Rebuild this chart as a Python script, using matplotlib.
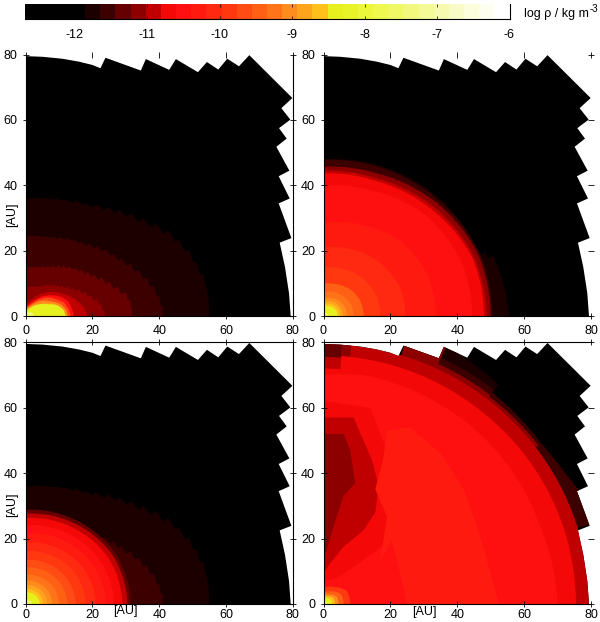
import numpy as np
import matplotlib
matplotlib.use("Agg")
import matplotlib.pyplot as plt
from matplotlib.colors import ListedColormap, BoundaryNorm
from matplotlib.cm import ScalarMappable
from matplotlib.patches import Polygon

plt.rcParams['font.family'] = ['Liberation Sans', 'DejaVu Sans']

W, H = 600, 622

# colour scale
band_colors = ['#000000', '#1c0000', '#3c0000', '#660000', '#8c0000', '#c00000',
               '#f40808', '#ff1010', '#ff1a10', '#ff2810', '#ff3810', '#ff4c14',
               '#ff6014', '#ff7418', '#ff8c1c', '#ffa41c', '#ffc01c', '#e6f01e',
               '#e8f428', '#ecf63a', '#eef84e', '#f0f866', '#f2f87e', '#f4fa96',
               '#f6faae', '#f8fbc6', '#fbfddc', '#fdfeee', '#ffffff']
cbar_low = -12.69
band_edges = [cbar_low] + list(np.linspace(-11.86, -6.0, 29))
cbar_ticks = [-12, -11, -10, -9, -8, -7, -6]
cbar_ticklabels = ['-12', '-11', '-10', '-9', '-8', '-7', '-6']

# jagged outer edge of the grid [AU]
outline_x = [0, 5, 11, 16, 20, 22.4, 23.9, 34.5, 36, 43, 45, 51.6, 54.3, 57.7, 60.4, 63.9, 67,
             79.9, 76.6, 79.3, 75.9, 78.2, 75.1, 79, 75.8, 79.1, 75.8, 79.6, 76.1, 77.7, 78.9, 79.4, 0]
outline_y = [79.5, 79.3, 78.7, 77.8, 76.8, 75.8, 79, 75.1, 78.6, 75.3, 78.6, 74.6, 77.7, 75.4, 78.7, 76.4, 79.8,
             66.7, 63.6, 60.1, 57.5, 54.3, 51.8, 44.5, 42.8, 36, 34.5, 23.9, 22.5, 15, 7, 0, 0]

axis_ticks = [0, 20, 40, 60, 80]
axis_ticklabels = ['0', '20', '40', '60', '80']

# shells: log density, polar angles [deg], outer radius [AU]
grid10 = [0, 10, 20, 30, 40, 50, 60, 70, 80, 90]
ring_outer = [55, 55, 53, 50, 45.5, 42, 39, 37.5, 36.5, 36]
ring_second = [41.5, 40, 37, 33.5, 31, 28.5, 27, 25.5, 24.8, 24.4]

p1_levels = [-11.75, -11.55, -11.34, -11.13, -10.92, -10.5, -9.67, -9.04, -8.41, -7.5]
p1_radii = [ring_outer, ring_second,
            [32, 31.5, 27.5, 24, 21.5, 19.5, 17.5, 16, 15.3, 15],
            [24, 22.5, 19.5, 16.5, 14, 12.5, 10.8, 9.6, 9.2, 9],
            [18.5, 17.5, 15.5, 13.5, 11.5, 9.5, 7.5, 5.5, 4.5, 4],
            [14.5, 14, 13.5, 12, 10, 8, 5.8, 4.3, 3.4, 3],
            [13.5, 13, 12.2, 10.5, 9, 7, 5, 3.6, 3, 2.8],
            [12.7, 12.2, 11, 9, 7.5, 5.8, 4.2, 3.2, 2.7, 2.5],
            [12, 11.5, 10, 7.5, 5.8, 4.4, 3.2, 2.4, 2, 1.8],
            [2.5, 2.5, 2.4, 2.2, 2, 1.8, 1.6, 1.4, 1.2, 1.2]]

p2_angles = [0, 20, 22, 45, 70, 90]
p2_levels = [-11.75, -11.55, -11.13, -10.92, -10.71, -10.5, -10.29, -10.08,
             -9.88, -9.46, -9.25, -9.04, -8.83, -8.62, -8.41, -7.5]
p2_radii = [[55.5, 54, 50.5, 50, 49, 48],
            [50.5, 50.5, 50.5, 49.5, 48.5, 47.8],
            [50, 50, 50, 48.5, 46.5, 45.7],
            [48.8, 48.5, 48.5, 47, 45, 44.5],
            [48, 48, 48, 46, 44.2, 43.7],
            [44.5, 44.5, 44.5, 43.5, 41, 40],
            [33.5, 33.5, 33.5, 32.5, 30, 28.5],
            [24.5, 24.5, 24.5, 23.5, 22, 21],
            [17, 17, 17, 16.5, 15.5, 15],
            [12, 12, 12, 11.5, 10.5, 10],
            [9, 9, 9, 8.5, 8, 7.5],
            [7, 7, 7, 6.7, 6, 5.6],
            [5.8, 5.8, 5.8, 5.5, 5, 4.6],
            [5, 5, 5, 4.7, 4.2, 3.9],
            [4.2, 4.2, 4.2, 3.9, 3.4, 3.2],
            [1.5, 1.5, 1.5, 1.4, 1.2, 1.1]]

p3_angles = [0, 30, 60, 90]
p3_levels = [-11.34, -10.92, -10.71, -10.5, -10.29, -10.08, -9.88, -9.67, -9.46,
             -9.25, -9.04, -8.83, -8.62, -8.41, -7.5]
p3_radii = [[31.5, 31, 29.7, 28.8],
            [30.5, 30, 28.6, 27.6],
            [29, 28.5, 27.2, 26.3],
            [26.5, 26, 25, 24],
            [24, 23.5, 22.5, 21.5],
            [21, 20.5, 19.6, 18.8],
            [18, 17.6, 16.8, 16.2],
            [15, 14.6, 14, 13.5],
            [12.5, 12.2, 11.6, 11.2],
            [10, 9.8, 9.3, 9],
            [8, 7.8, 7.4, 7.2],
            [6.5, 6.3, 6, 5.8],
            [5.2, 5, 4.8, 4.6],
            [4.2, 4, 3.8, 3.6],
            [1.8, 1.7, 1.6, 1.5]]

p4_levels_outer = [-11.75, -11.55, -11.13, -10.92, -11.34, -11.13, -10.92, -10.71, -10.5]
p4_angles_outer = [[0, 51.9, 52, 65, 73, 73.1, 90],
                   [0, 16.9, 17, 24, 29, 37, 52, 52.1, 65, 65.1, 90],
                   [0, 37, 37.1, 52, 52.1, 65, 65.1, 73, 73.1, 90],
                   [0, 90],
                   [0, 85.9, 86, 90],
                   [0, 83.9, 84, 86, 86.1, 90],
                   [0, 85.9, 86, 90],
                   [0, 20, 50, 85.9, 86, 90],
                   [0, 20, 50, 80, 90]]
p4_radii_outer = [[0, 0, 85, 87, 87, 0, 0],
                  [0, 0, 84, 84, 82.6, 81.5, 82, 83, 83, 0, 0],
                  [0, 0, 80.5, 80.5, 81, 81, 88, 88, 0, 0],
                  [79.5, 79.5],
                  [0, 0, 79.5, 79.5],
                  [0, 0, 79.5, 79.5, 0, 0],
                  [0, 0, 75.5, 75.5],
                  [75.5, 75.5, 75.5, 76, 72, 72],
                  [70, 69, 70, 71, 70]]

# density structures along the axis of the last panel [AU]
halo_level = -10.71
halo_x = [0, 14, 17, 20, 22, 22, 18, 10, 4, 0]
halo_y = [62, 60, 52, 44, 35, 26, 18, 12, 8, 7]
plume_out_level = -10.92
plume_out_x = [0, 9, 11.5, 14.5, 16.5, 15.5, 12, 6, 2, 0]
plume_out_y = [57, 57, 51, 44, 36, 28, 22.6, 17.5, 12.5, 9.4]
plume_in_level = -11.13
plume_in_x = [0, 6, 8, 9.5, 6, 3, 0]
plume_in_y = [52, 52, 47, 37, 33, 23.7, 13.5]
hump_level = -10.29
hump_x = [19, 26, 35, 42, 47, 52.5, 25, 20.5, 17, 19, 15.5, 18]
hump_y = [53, 54, 46, 35, 20, 0, 0, 19.6, 13.5, 26.7, 35, 45]

p4_levels_core = [-9.88, -9.46, -9.04, -8.62, -8.41, -7.5]
p4_angles_core = [0, 30, 60, 90]
p4_radii_core = [[8, 8, 6, 5],
                 [6, 6, 4.5, 3.5],
                 [4.5, 4.5, 3.4, 2.8],
                 [3.5, 3.5, 2.7, 2.2],
                 [2.5, 2.5, 2, 1.6],
                 [1, 1, 0.9, 0.8]]

panels = [(25.7, 292.7, 54.5, 316.3), (323.5, 591, 54.5, 316.3),
          (25.7, 292.7, 342.3, 604), (323.5, 591, 342.3, 604)]

cmap = ListedColormap(band_colors)
norm = BoundaryNorm(band_edges, cmap.N)


def add_axes(x0, x1, y0, y1):
    return fig.add_axes([x0 / W, 1 - y1 / H, (x1 - x0) / W, (y1 - y0) / H])


def shell(ax, clip, level, angles, radii, step=3.0):
    edges = np.arange(0, 90 + step, step)
    centers = 0.5 * (edges[:-1] + edges[1:])
    r = np.interp(centers, angles, radii)
    th0, th1 = np.radians(edges[:-1]), np.radians(edges[1:])
    xs = np.column_stack([r * np.cos(th0), r * np.cos(th1)]).ravel()
    ys = np.column_stack([r * np.sin(th0), r * np.sin(th1)]).ravel()
    p = ax.fill(np.r_[0, xs], np.r_[0, ys], fc=cmap(norm(level)), ec='none', lw=0)[0]
    p.set_clip_path(clip)


def blob(ax, level, xs, ys):
    ax.fill(xs, ys, fc=cmap(norm(level)), ec='none', lw=0)


fig = plt.figure(figsize=(W / 100, H / 100), dpi=100, facecolor='white')

axes = []
for i, (x0, x1, y0, y1) in enumerate(panels):
    ax = add_axes(x0, x1, y0, y1)
    ax.set_xlim(0, 80)
    ax.set_ylim(0, 80)
    ax.set_xticks(axis_ticks, axis_ticklabels)
    ax.set_yticks(axis_ticks, axis_ticklabels)
    ax.tick_params(top=True, right=True, direction='inout', length=4, width=0.6,
                   labelsize=9)
    ax.tick_params(axis='x', pad=4.5 if i < 2 else 1.5)
    ax.tick_params(axis='y', pad=4)
    for sp in ax.spines.values():
        sp.set_linewidth(0.8)
    if i < 2:
        ax.spines['top'].set_visible(False)
    if i % 2 == 1:
        ax.spines['right'].set_visible(False)
    clip = Polygon(np.column_stack([outline_x, outline_y]), closed=True, fc='black', ec='none',
                   transform=ax.transData)
    ax.add_patch(clip)
    axes.append((ax, clip))

ax, clip = axes[0]
for lev, rad in zip(p1_levels, p1_radii):
    shell(ax, clip, lev, grid10, rad, step=4.5 if lev < -11 else 2.0)

ax, clip = axes[1]
for lev, rad in zip(p2_levels, p2_radii):
    shell(ax, clip, lev, p2_angles, rad, step=2.0)

ax, clip = axes[2]
shell(ax, clip, -11.75, grid10, ring_outer, step=4.5)
shell(ax, clip, -11.55, grid10, ring_second, step=4.5)
for lev, rad in zip(p3_levels, p3_radii):
    shell(ax, clip, lev, p3_angles, rad, step=2.0)

ax, clip = axes[3]
for lev, ang, rad in zip(p4_levels_outer, p4_angles_outer, p4_radii_outer):
    shell(ax, clip, lev, ang, rad, step=1.0)
blob(ax, halo_level, halo_x, halo_y)
blob(ax, plume_out_level, plume_out_x, plume_out_y)
blob(ax, plume_in_level, plume_in_x, plume_in_y)
blob(ax, hump_level, hump_x, hump_y)
for lev, rad in zip(p4_levels_core, p4_radii_core):
    shell(ax, clip, lev, p4_angles_core, rad, step=2.0)

# colour bar
cax = add_axes(25, 509.5, 4, 19)
cb = fig.colorbar(ScalarMappable(norm=norm, cmap=cmap), cax=cax, orientation='horizontal',
                  spacing='proportional', ticks=cbar_ticks, drawedges=False)
cb.outline.set_visible(False)
cax.set_xticks(cbar_ticks, cbar_ticklabels)
cax.minorticks_off()
cax.tick_params(axis='x', top=True, bottom=True, direction='in', length=2, width=0.5,
                labelsize=9, pad=7)
cax.spines['right'].set_visible(True)
cax.spines['bottom'].set_visible(True)
cax.spines['right'].set_linewidth(0.8)
cax.spines['bottom'].set_linewidth(0.8)


# texts placed in pixel fractions of the figure
def ftext(px, py, s, **kw):
    fig.text(px / W, 1 - py / H, s, fontsize=9, va='center', ha='center', **kw)


ftext(12, 215, '[AU]', rotation=90)
ftext(12, 505, '[AU]', rotation=90)
ftext(125, 611, '[AU]')
ftext(424, 612, '[AU]')
fig.text(524 / W, 1 - 14 / H, 'log ρ / kg m', fontsize=9, va='center', ha='left')
fig.text(590 / W, 1 - 9 / H, '-3', fontsize=7, va='center', ha='left')

fig.savefig('out.png', dpi=100, facecolor='white')
